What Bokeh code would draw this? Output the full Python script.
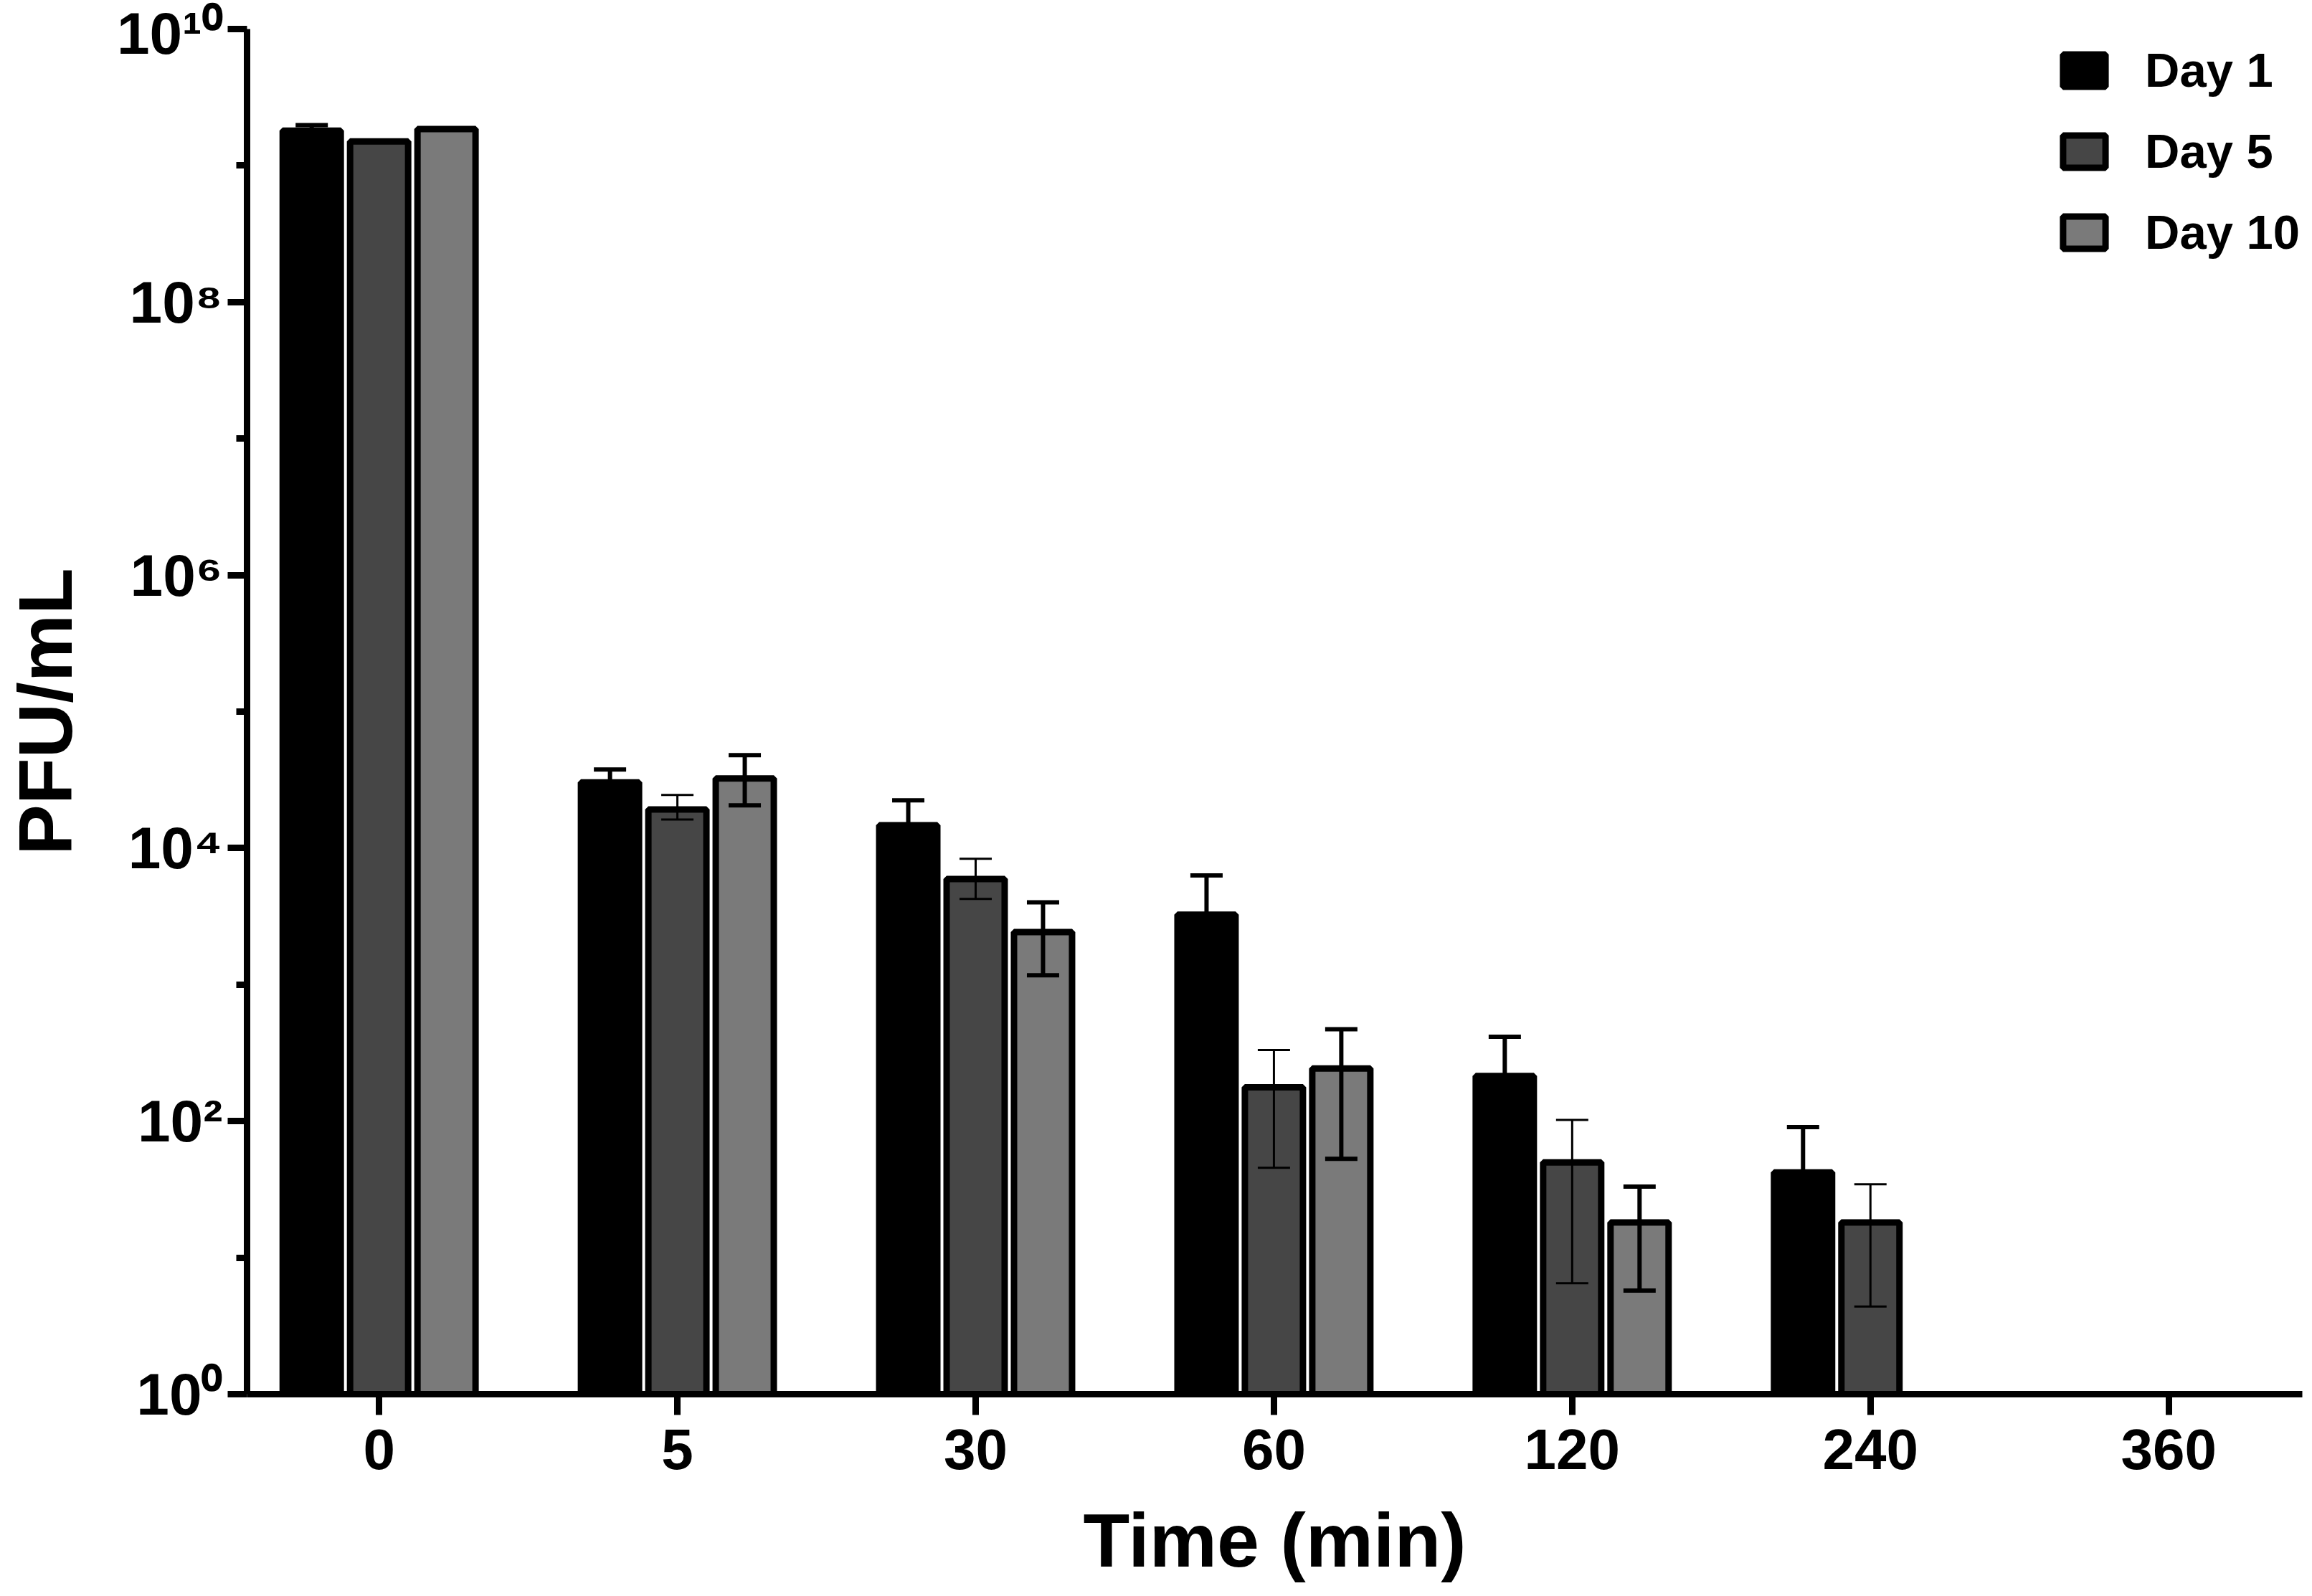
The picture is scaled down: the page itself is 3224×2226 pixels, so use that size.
from bokeh.plotting import figure
from bokeh.models import (ColumnDataSource, Range1d, FixedTicker, Whisker, TeeHead,
                          Legend, LegendItem)
from bokeh.embed import file_html
from bokeh.resources import INLINE

# ---------------- data ----------------
times = ["0", "5", "30", "60", "120", "240", "360"]
series_names = ["Day 1", "Day 5", "Day 10"]

day1 = [1.80e9, 3.03e4, 1.47e4, 3.25e3, 214, 42.1, None]
day1_upper = [1.98e9, 3.77e4, 2.24e4, 6.30e3, 415, 90.5, None]

day5 = [1.50e9, 1.92e4, 5.94e3, 177, 49.9, 18.1, None]
day5_upper = [None, 2.45e4, 8.36e3, 332, 102, 34.5, None]
day5_lower = [None, 1.62e4, 4.25e3, 45.5, 6.5, 4.39, None]

day10 = [1.85e9, 3.24e4, 2.43e3, 243, 18.1, None, None]
day10_upper = [None, 4.80e4, 4.01e3, 472, 33.2, None, None]
day10_lower = [None, 2.06e4, 1.17e3, 52.9, 5.74, None, None]

y_major_exponents = [0, 2, 4, 6, 8, 10]
y_minor_exponents = [1, 3, 5, 7, 9]
y_tick_labels = ["10\u2070", "10\u00b2", "10\u2074", "10\u2076", "10\u2078", "10\u00b9\u2070"]

colors = ["#000000", "#464646", "#7a7a7a"]
FONT = "Liberation Sans"

# ---------------- layout ----------------
W, H = 3224, 2226
BL, BR, BT, BB = 343, 14, 40, 282
X0, X1 = -0.4428, 6.448
frame_w = W - BL - BR
ppu = frame_w / (X1 - X0)          # px per category

p = figure(width=W, height=H, x_range=Range1d(X0, X1), y_range=Range1d(1, 1e10),
           y_axis_type="log", output_backend="svg", toolbar_location=None,
           min_border_left=BL, min_border_right=BR, min_border_top=BT,
           min_border_bottom=BB)
p.outline_line_color = None
p.xgrid.visible = False
p.ygrid.visible = False
p.background_fill_color = "white"
p.border_fill_color = "white"

xa = p.xaxis[0]
xa.ticker = FixedTicker(ticks=list(range(len(times))))
xa.major_label_overrides = {i: t for i, t in enumerate(times)}
xa.axis_line_width = 9
xa.axis_line_color = "black"
xa.major_tick_line_width = 9
xa.major_tick_line_color = "black"
xa.major_tick_out = 29
xa.major_tick_in = 0
xa.minor_tick_out = 0
xa.minor_tick_in = 0
xa.major_label_text_font = FONT
xa.major_label_text_font_style = "bold"
xa.major_label_text_font_size = "80px"
xa.major_label_text_color = "black"
xa.major_label_standoff = 20
xa.axis_label = "Time (min)"
xa.axis_label_text_font = FONT
xa.axis_label_text_font_style = "bold"
xa.axis_label_text_font_size = "106px"
xa.axis_label_text_color = "black"
xa.axis_label_standoff = 37

ya = p.yaxis[0]
ya.ticker = FixedTicker(ticks=[10.0 ** e for e in y_major_exponents],
                        minor_ticks=[10.0 ** e for e in y_minor_exponents])
ya.major_label_overrides = {10.0 ** e: lab for e, lab in zip(y_major_exponents, y_tick_labels)}
ya.major_label_text_font = FONT
ya.major_label_text_font_style = "bold"
ya.major_label_text_font_size = "82px"
ya.major_label_text_color = "black"
ya.major_label_standoff = 7
ya.axis_line_width = 9
ya.axis_line_color = "black"
ya.major_tick_line_width = 9
ya.major_tick_line_color = "black"
ya.major_tick_out = 27
ya.major_tick_in = 0
ya.minor_tick_line_width = 9
ya.minor_tick_line_color = "black"
ya.minor_tick_out = 15
ya.minor_tick_in = 0
ya.axis_label = "PFU/mL"
ya.axis_label_text_font = FONT
ya.axis_label_text_font_style = "bold"
ya.axis_label_text_font_size = "106px"
ya.axis_label_text_color = "black"
ya.axis_label_standoff = 38

# ---------------- bars ----------------
offsets = [-94 / ppu, 0.0, 94 / ppu]
bar_w = 81 / ppu
all_vals = [day1, day5, day10]
renderers = []
for vals, off, col in zip(all_vals, offsets, colors):
    xs = [i + off for i, v in enumerate(vals) if v is not None]
    tops = [v for v in vals if v is not None]
    src = ColumnDataSource(dict(x=xs, top=tops))
    r = p.vbar(x="x", top="top", bottom=1, width=bar_w, source=src,
               fill_color=col, line_color="black", line_width=9)
    renderers.append(r)

# ---------------- error bars ----------------
def add_whisker(vals, uppers, lowers, off, lw, draw_lower=True):
    xs, up, lo = [], [], []
    for i, (v, u, l) in enumerate(zip(vals, uppers, lowers)):
        if v is None or u is None:
            continue
        xs.append(i + off)
        up.append(u)
        lo.append(l if (draw_lower and l is not None) else v)
    src = ColumnDataSource(dict(base=xs, upper=up, lower=lo))
    w = Whisker(source=src, base="base", upper="upper", lower="lower",
                line_color="black", line_width=lw, level="overlay",
                upper_head=TeeHead(size=45, line_width=lw, line_color="black"),
                lower_head=(TeeHead(size=45, line_width=lw, line_color="black")
                            if draw_lower else None))
    p.add_layout(w)

add_whisker(day1, day1_upper, day1, offsets[0], 6, draw_lower=False)
add_whisker(day5, day5_upper, day5_lower, offsets[1], 3)
add_whisker(day10, day10_upper, day10_lower, offsets[2], 6)

# ---------------- legend ----------------
legend = Legend(items=[LegendItem(label=n, renderers=[r]) for n, r in zip(series_names, renderers)],
                location=(2525, 1582), orientation="vertical",
                glyph_width=74, glyph_height=56, label_height=56, label_standoff=48,
                spacing=36, padding=0, margin=0,
                border_line_color=None, background_fill_alpha=0,
                label_text_font=FONT, label_text_font_style="bold",
                label_text_font_size="67px", label_text_color="black")
p.add_layout(legend)

open("out.html", "w").write(file_html(p, INLINE))
